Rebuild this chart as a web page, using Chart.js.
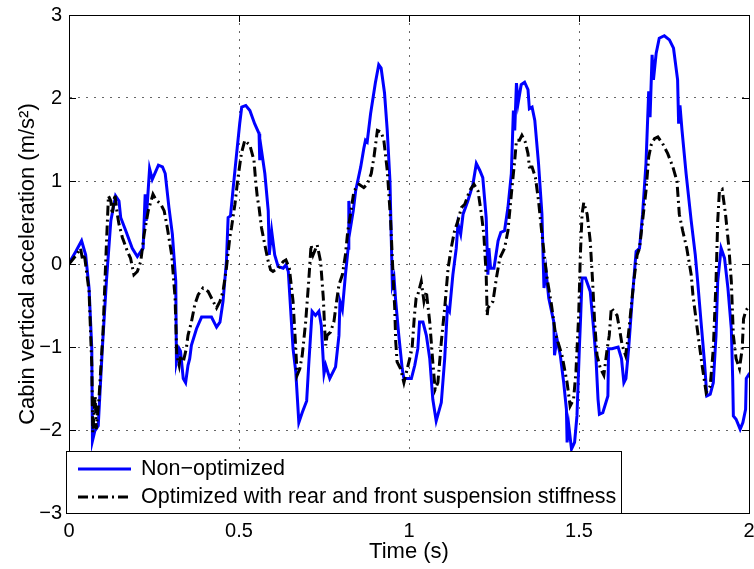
<!DOCTYPE html>
<html>
<head>
<meta charset="utf-8">
<script src="https://cdn.jsdelivr.net/npm/chart.js@4.4.1/dist/chart.umd.min.js"></script>
<style>
  body { margin: 0; background: #fff; }
  canvas { display: block; }
</style>
</head>
<body>
<canvas id="myChart" width="754" height="569"></canvas>
<script>
// Non-optimized (blue solid)
var timeA = [0.000,0.020,0.037,0.049,0.059,0.067,0.069,0.076,0.086,0.098,0.110,0.123,0.137,0.147,0.152,0.167,0.186,0.201,0.218,0.224,0.227,0.237,0.245,0.263,0.275,0.283,0.294,0.304,0.314,0.316,0.324,0.328,0.336,0.343,0.350,0.355,0.360,0.375,0.390,0.419,0.434,0.444,0.453,0.463,0.468,0.475,0.483,0.493,0.502,0.508,0.520,0.532,0.546,0.559,0.561,0.564,0.576,0.586,0.589,0.596,0.605,0.615,0.630,0.638,0.645,0.659,0.667,0.676,0.686,0.699,0.705,0.715,0.725,0.735,0.742,0.748,0.750,0.755,0.767,0.784,0.794,0.797,0.804,0.813,0.821,0.823,0.828,0.836,0.843,0.858,0.867,0.872,0.877,0.887,0.901,0.911,0.918,0.928,0.936,0.944,0.948,0.951,0.956,0.961,0.970,0.980,0.985,1.007,1.017,1.026,1.031,1.041,1.051,1.061,1.070,1.080,1.095,1.105,1.113,1.119,1.129,1.139,1.144,1.152,1.159,1.173,1.188,1.198,1.208,1.217,1.227,1.232,1.235,1.240,1.250,1.262,1.270,1.281,1.291,1.301,1.307,1.311,1.316,1.321,1.330,1.340,1.350,1.354,1.362,1.370,1.381,1.391,1.397,1.403,1.411,1.426,1.428,1.435,1.445,1.455,1.463,1.465,1.470,1.478,1.487,1.494,1.501,1.505,1.509,1.519,1.533,1.543,1.550,1.556,1.560,1.570,1.585,1.587,1.597,1.615,1.625,1.632,1.638,1.646,1.656,1.668,1.678,1.687,1.697,1.705,1.709,1.715,1.719,1.727,1.736,1.751,1.766,1.778,1.790,1.793,1.797,1.803,1.815,1.830,1.842,1.849,1.859,1.869,1.876,1.886,1.895,1.903,1.908,1.918,1.928,1.938,1.948,1.952,1.954,1.962,1.974,1.982,1.990,1.992,1.998,2.000];
var accA = [0.01,0.15,0.28,0.11,-0.29,-1.02,-2.13,-2.01,-1.95,-1.02,-0.21,0.52,0.82,0.76,0.56,0.40,0.19,0.09,0.19,0.84,0.52,1.15,1.02,1.19,1.17,1.09,0.68,0.36,-0.21,-1.18,-1.02,-1.05,-1.38,-1.43,-1.22,-1.14,-0.98,-0.78,-0.64,-0.64,-0.76,-0.70,-0.45,0.03,0.56,0.58,0.92,1.33,1.69,1.89,1.91,1.85,1.69,1.57,1.25,1.43,1.09,0.64,0.11,0.40,0.11,-0.03,-0.05,-0.01,-0.09,-1.02,-1.30,-1.91,-1.79,-1.65,-1.22,-0.57,-0.62,-0.57,-0.74,-1.18,-1.32,-1.22,-1.38,-1.24,-0.86,-0.45,-0.55,-0.13,0.19,0.76,0.44,0.64,0.88,1.17,1.39,1.49,1.47,1.81,2.18,2.40,2.36,2.06,1.61,1.00,0.28,-0.25,-0.17,-0.45,-0.86,-1.26,-1.38,-1.38,-1.22,-1.02,-0.70,-0.70,-0.86,-1.14,-1.63,-1.89,-1.67,-1.14,-0.53,-0.57,-0.13,0.19,0.48,0.36,0.60,0.76,0.96,1.21,1.13,1.04,0.56,-0.13,0.19,-0.05,-0.05,0.28,0.38,0.40,0.68,1.09,1.85,1.61,2.18,1.94,2.16,2.19,2.10,1.87,1.89,1.73,1.21,0.60,-0.29,-0.09,-0.41,-0.70,-1.10,-0.90,-1.10,-1.43,-1.75,-2.15,-1.95,-2.23,-2.15,-1.83,-1.02,-0.62,-0.17,-0.17,-0.33,-0.78,-1.14,-1.63,-1.81,-1.79,-1.59,-1.02,-1.02,-1.00,-1.14,-1.43,-1.38,-1.02,-0.45,0.15,0.19,0.60,1.21,2.08,1.77,2.52,2.22,2.54,2.72,2.75,2.70,2.60,2.22,1.69,1.91,1.61,1.09,0.52,0.11,-0.21,-0.70,-1.18,-1.59,-1.57,-1.43,-0.86,-0.21,0.19,0.07,-0.29,-0.78,-1.38,-1.83,-1.87,-1.99,-1.91,-1.75,-1.38,-1.34,-1.36];

// Optimized with rear and front suspension stiffness (black dash-dot)
var timeB = [0.000,0.020,0.034,0.040,0.045,0.059,0.067,0.070,0.077,0.080,0.088,0.100,0.108,0.116,0.123,0.127,0.135,0.142,0.147,0.157,0.172,0.181,0.191,0.201,0.211,0.221,0.233,0.247,0.255,0.270,0.280,0.289,0.302,0.312,0.317,0.324,0.328,0.336,0.345,0.350,0.360,0.370,0.380,0.394,0.409,0.424,0.434,0.444,0.453,0.463,0.473,0.478,0.488,0.497,0.507,0.517,0.532,0.544,0.549,0.554,0.559,0.566,0.576,0.586,0.593,0.600,0.615,0.630,0.638,0.648,0.659,0.667,0.671,0.679,0.686,0.696,0.705,0.712,0.718,0.730,0.740,0.748,0.752,0.755,0.759,0.769,0.779,0.787,0.794,0.804,0.813,0.820,0.828,0.838,0.853,0.867,0.877,0.889,0.897,0.907,0.918,0.926,0.936,0.946,0.954,0.958,0.961,0.965,0.975,0.985,0.995,1.009,1.016,1.021,1.026,1.036,1.044,1.051,1.061,1.070,1.077,1.085,1.095,1.105,1.115,1.124,1.134,1.144,1.154,1.164,1.178,1.191,1.203,1.213,1.220,1.227,1.230,1.232,1.240,1.247,1.257,1.267,1.281,1.291,1.301,1.311,1.316,1.325,1.332,1.342,1.350,1.354,1.362,1.372,1.381,1.391,1.399,1.406,1.419,1.430,1.438,1.450,1.465,1.474,1.484,1.491,1.499,1.504,1.509,1.514,1.524,1.533,1.540,1.546,1.553,1.563,1.573,1.583,1.589,1.595,1.612,1.619,1.627,1.637,1.644,1.651,1.661,1.671,1.678,1.687,1.697,1.705,1.712,1.722,1.732,1.746,1.761,1.776,1.788,1.793,1.795,1.805,1.817,1.830,1.835,1.840,1.849,1.862,1.874,1.886,1.895,1.903,1.908,1.913,1.921,1.931,1.941,1.948,1.954,1.962,1.972,1.980,1.984,1.990,1.996,2.000];
var accB = [0.00,0.10,0.19,0.05,0.12,-0.33,-1.22,-2.03,-1.59,-1.99,-1.63,-0.82,0.03,0.82,0.76,0.60,0.84,0.60,0.48,0.32,0.15,0.07,-0.13,-0.09,0.03,0.36,0.64,0.84,0.78,0.72,0.64,0.44,0.11,-0.41,-1.10,-1.22,-1.10,-1.18,-1.02,-0.86,-0.70,-0.49,-0.37,-0.29,-0.33,-0.45,-0.53,-0.45,-0.33,-0.05,0.32,0.44,0.72,1.04,1.33,1.49,1.43,1.25,1.00,0.80,0.68,0.44,0.23,0.03,-0.07,-0.09,-0.05,0.03,0.05,-0.05,-0.45,-1.02,-1.34,-1.26,-1.10,-0.70,-0.21,0.23,0.11,0.23,0.03,-0.41,-0.78,-0.98,-0.86,-0.82,-0.70,-0.45,-0.25,-0.13,0.11,0.40,0.60,0.88,0.96,0.92,0.96,1.09,1.29,1.61,1.59,1.49,1.13,0.52,-0.21,-0.53,-0.94,-1.18,-1.26,-1.43,-1.26,-1.02,-0.62,-0.41,-0.37,-0.21,-0.45,-0.33,-0.70,-1.18,-1.51,-1.43,-0.94,-0.53,-0.05,0.19,0.40,0.52,0.68,0.72,0.88,0.96,0.88,0.60,0.36,-0.13,-0.62,-0.53,-0.49,-0.45,-0.17,0.07,0.19,0.40,0.84,1.25,1.49,1.49,1.55,1.47,1.33,1.17,1.17,1.04,0.76,0.36,0.07,-0.17,-0.49,-0.82,-0.94,-1.10,-1.43,-1.71,-1.63,-1.30,-0.62,0.11,0.60,0.74,0.60,0.28,-0.21,-0.70,-1.10,-1.26,-1.34,-1.02,-0.86,-0.53,-0.62,-0.78,-0.98,-1.10,-0.90,-0.62,-0.21,0.11,0.19,0.52,0.88,1.29,1.43,1.51,1.53,1.45,1.33,1.17,1.00,0.72,0.60,0.40,0.19,-0.13,-0.37,-0.53,-0.82,-1.22,-1.55,-1.47,-1.02,-0.21,0.52,0.88,0.90,0.60,0.19,-0.21,-0.86,-1.14,-1.26,-1.02,-0.66,-0.57,-0.53,-0.50];

var seriesNames = ["Non\u2212optimized", "Optimized with rear and front suspension stiffness"];
var xTickLabels = ["0", "0.5", "1", "1.5", "2"];
var yTickLabels = ["\u22123", "\u22122", "\u22121", "0", "1", "2", "3"];
var xTitle = "Time (s)";
var yTitle = "Cabin vertical acceleration (m/s\u00b2)";

function toPoints(xs, ys) {
  var pts = [];
  for (var i = 0; i < xs.length; i++) {
    pts.push({ x: xs[i], y: ys[i] });
  }
  return pts;
}

var FONT = "'Liberation Sans', Arial, Helvetica, sans-serif";

// box, inward ticks and the legend, drawn the matlab way
var matlabAxes = {
  id: "matlabAxes",
  afterDraw: function (chart) {
    var ctx = chart.ctx;
    var a = chart.chartArea;
    var xs = chart.scales.x;
    var ys = chart.scales.y;
    var tl = 7;
    ctx.save();
    ctx.strokeStyle = "#000";
    ctx.lineWidth = 1;
    ctx.setLineDash([]);
    ctx.beginPath();
    for (var i = 0; i < xs.ticks.length; i++) {
      var px = Math.round(xs.getPixelForValue(xs.ticks[i].value)) + 0.5;
      ctx.moveTo(px, a.bottom); ctx.lineTo(px, a.bottom - tl);
      ctx.moveTo(px, a.top); ctx.lineTo(px, a.top + tl);
    }
    for (var j = 0; j < ys.ticks.length; j++) {
      var py = Math.round(ys.getPixelForValue(ys.ticks[j].value)) + 0.5;
      ctx.moveTo(a.left, py); ctx.lineTo(a.left + tl, py);
      ctx.moveTo(a.right, py); ctx.lineTo(a.right - tl, py);
    }
    ctx.stroke();
    ctx.strokeRect(Math.round(a.left) + 0.5, Math.round(a.top) + 0.5,
      Math.round(a.right - a.left), Math.round(a.bottom - a.top));

    // legend
    var lx = a.left - 3, lw = 555, lh = 62;
    var ly = a.bottom - lh;
    ctx.fillStyle = "#fff";
    ctx.fillRect(lx, ly, lw, lh);
    ctx.strokeRect(lx + 0.5, ly + 0.5, lw, lh);
    ctx.font = "21.5px " + FONT;
    ctx.textBaseline = "middle";
    ctx.textAlign = "left";
    var rows = [ly + 18, ly + 46];
    chart.data.datasets.forEach(function (ds, k) {
      ctx.beginPath();
      ctx.strokeStyle = ds.borderColor;
      ctx.lineWidth = ds.borderWidth;
      ctx.setLineDash(ds.borderDash || []);
      ctx.moveTo(lx + 12, rows[k]);
      ctx.lineTo(lx + 65, rows[k]);
      ctx.stroke();
      ctx.setLineDash([]);
      ctx.fillStyle = "#000";
      ctx.fillText(ds.label, lx + 75, rows[k]);
    });
    ctx.restore();
  }
};

var ctx = document.getElementById("myChart").getContext("2d");
var myChart = new Chart(ctx, {
  type: "line",
  data: {
    datasets: [
      {
        label: seriesNames[0],
        data: toPoints(timeA, accA),
        borderColor: "#0000ff",
        borderWidth: 3,
        pointRadius: 0,
        tension: 0,
        order: 1
      },
      {
        label: seriesNames[1],
        data: toPoints(timeB, accB),
        borderColor: "#000000",
        borderWidth: 3,
        borderDash: [10, 4, 2, 4],
        pointRadius: 0,
        tension: 0,
        order: 0
      }
    ]
  },
  options: {
    responsive: false,
    animation: false,
    devicePixelRatio: 1,
    layout: { padding: { top: 15, right: 5, left: 0, bottom: 0 } },
    plugins: {
      legend: { display: false },
      tooltip: { enabled: false }
    },
    scales: {
      x: {
        type: "linear",
        min: 0,
        max: 2,
        grid: { color: "rgba(0,0,0,0.6)", borderDash: [2, 6], drawTicks: false, lineWidth: 1 },
        border: { display: true, color: "#000", width: 1, dash: [2, 6] },
        ticks: {
          stepSize: 0.5,
          autoSkip: false,
          maxRotation: 0,
          padding: 6,
          color: "#000",
          font: { family: FONT, size: 20 },
          callback: function (value, index) { return xTickLabels[index]; }
        },
        title: {
          display: true,
          text: xTitle,
          color: "#000",
          font: { family: FONT, size: 22 },
          padding: { top: 0, bottom: 4 }
        },
        afterFit: function (scale) {
          scale.height = 56;
          scale.paddingLeft = 0;
          scale.paddingRight = 0;
        }
      },
      y: {
        min: -3,
        max: 3,
        grid: { color: "rgba(0,0,0,0.6)", borderDash: [2, 6], drawTicks: false, lineWidth: 1 },
        border: { display: true, color: "#000", width: 1, dash: [2, 6] },
        ticks: {
          stepSize: 1,
          autoSkip: false,
          padding: 7,
          color: "#000",
          font: { family: FONT, size: 20 },
          callback: function (value, index) { return yTickLabels[index]; }
        },
        title: {
          display: true,
          text: yTitle,
          color: "#000",
          font: { family: FONT, size: 22 },
          padding: { top: 15, bottom: 0 }
        },
        afterFit: function (scale) {
          scale.width = 69;
          scale.paddingTop = 0;
          scale.paddingBottom = 0;
        }
      }
    }
  },
  plugins: [matlabAxes]
});
</script>
</body>
</html>
